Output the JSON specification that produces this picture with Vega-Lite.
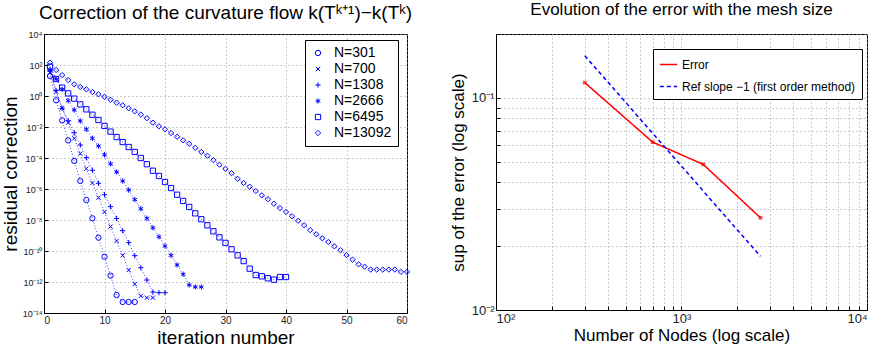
{
  "$schema": "https://vega.github.io/schema/vega-lite/v6.json",
  "padding": {"left": 0, "right": 0, "top": 0, "bottom": 0},
  "background": "white",
  "datasets": {
    "conv": [
      {"N":"N=301","iter":1,"logr":1.29},{"N":"N=301","iter":2,"logr":-0.28},{"N":"N=301","iter":3,"logr":-1.57},{"N":"N=301","iter":4,"logr":-2.86},{"N":"N=301","iter":5,"logr":-4.19},{"N":"N=301","iter":6,"logr":-5.48},{"N":"N=301","iter":7,"logr":-6.71},{"N":"N=301","iter":8,"logr":-7.89},{"N":"N=301","iter":9,"logr":-9.14},{"N":"N=301","iter":10,"logr":-10.37},{"N":"N=301","iter":11,"logr":-11.59},{"N":"N=301","iter":12,"logr":-12.84},{"N":"N=301","iter":13,"logr":-13.29},{"N":"N=301","iter":14,"logr":-13.29},{"N":"N=301","iter":15,"logr":-13.29},
      {"N":"N=700","iter":1,"logr":1.5},{"N":"N=700","iter":2,"logr":0.3},{"N":"N=700","iter":3,"logr":-0.78},{"N":"N=700","iter":4,"logr":-1.72},{"N":"N=700","iter":5,"logr":-2.73},{"N":"N=700","iter":6,"logr":-3.72},{"N":"N=700","iter":7,"logr":-4.69},{"N":"N=700","iter":8,"logr":-5.61},{"N":"N=700","iter":9,"logr":-6.56},{"N":"N=700","iter":10,"logr":-7.48},{"N":"N=700","iter":11,"logr":-8.43},{"N":"N=700","iter":12,"logr":-9.35},{"N":"N=700","iter":13,"logr":-10.28},{"N":"N=700","iter":14,"logr":-11.23},{"N":"N=700","iter":15,"logr":-12.13},{"N":"N=700","iter":16,"logr":-12.9},{"N":"N=700","iter":17,"logr":-13.01},{"N":"N=700","iter":18,"logr":-13.01},
      {"N":"N=1308","iter":1,"logr":1.6},{"N":"N=1308","iter":2,"logr":0.35},{"N":"N=1308","iter":3,"logr":-0.8},{"N":"N=1308","iter":4,"logr":-1.6},{"N":"N=1308","iter":5,"logr":-2.37},{"N":"N=1308","iter":6,"logr":-3.16},{"N":"N=1308","iter":7,"logr":-3.98},{"N":"N=1308","iter":8,"logr":-4.79},{"N":"N=1308","iter":9,"logr":-5.63},{"N":"N=1308","iter":10,"logr":-6.37},{"N":"N=1308","iter":11,"logr":-7.14},{"N":"N=1308","iter":12,"logr":-7.9},{"N":"N=1308","iter":13,"logr":-8.69},{"N":"N=1308","iter":14,"logr":-9.46},{"N":"N=1308","iter":15,"logr":-10.3},{"N":"N=1308","iter":16,"logr":-11.08},{"N":"N=1308","iter":17,"logr":-11.87},{"N":"N=1308","iter":18,"logr":-12.65},{"N":"N=1308","iter":19,"logr":-12.69},{"N":"N=1308","iter":20,"logr":-12.69},
      {"N":"N=2666","iter":1,"logr":1.7},{"N":"N=2666","iter":2,"logr":1.1},{"N":"N=2666","iter":3,"logr":0.43},{"N":"N=2666","iter":4,"logr":-0.3},{"N":"N=2666","iter":5,"logr":-0.9},{"N":"N=2666","iter":6,"logr":-1.61},{"N":"N=2666","iter":7,"logr":-2.15},{"N":"N=2666","iter":8,"logr":-2.73},{"N":"N=2666","iter":9,"logr":-3.23},{"N":"N=2666","iter":10,"logr":-3.79},{"N":"N=2666","iter":11,"logr":-4.37},{"N":"N=2666","iter":12,"logr":-4.9},{"N":"N=2666","iter":13,"logr":-5.48},{"N":"N=2666","iter":14,"logr":-6.06},{"N":"N=2666","iter":15,"logr":-6.68},{"N":"N=2666","iter":16,"logr":-7.27},{"N":"N=2666","iter":17,"logr":-7.89},{"N":"N=2666","iter":18,"logr":-8.5},{"N":"N=2666","iter":19,"logr":-9.08},{"N":"N=2666","iter":20,"logr":-9.68},{"N":"N=2666","iter":21,"logr":-10.28},{"N":"N=2666","iter":22,"logr":-10.9},{"N":"N=2666","iter":23,"logr":-11.5},{"N":"N=2666","iter":24,"logr":-12.19},{"N":"N=2666","iter":25,"logr":-12.32},{"N":"N=2666","iter":26,"logr":-12.32},
      {"N":"N=6495","iter":1,"logr":1.89},{"N":"N=6495","iter":2,"logr":1.1},{"N":"N=6495","iter":3,"logr":0.54},{"N":"N=6495","iter":4,"logr":0.17},{"N":"N=6495","iter":5,"logr":-0.17},{"N":"N=6495","iter":6,"logr":-0.54},{"N":"N=6495","iter":7,"logr":-0.86},{"N":"N=6495","iter":8,"logr":-1.21},{"N":"N=6495","iter":9,"logr":-1.55},{"N":"N=6495","iter":10,"logr":-1.93},{"N":"N=6495","iter":11,"logr":-2.3},{"N":"N=6495","iter":12,"logr":-2.65},{"N":"N=6495","iter":13,"logr":-2.97},{"N":"N=6495","iter":14,"logr":-3.29},{"N":"N=6495","iter":15,"logr":-3.61},{"N":"N=6495","iter":16,"logr":-4.0},{"N":"N=6495","iter":17,"logr":-4.4},{"N":"N=6495","iter":18,"logr":-4.82},{"N":"N=6495","iter":19,"logr":-5.16},{"N":"N=6495","iter":20,"logr":-5.55},{"N":"N=6495","iter":21,"logr":-5.94},{"N":"N=6495","iter":22,"logr":-6.37},{"N":"N=6495","iter":23,"logr":-6.77},{"N":"N=6495","iter":24,"logr":-7.16},{"N":"N=6495","iter":25,"logr":-7.57},{"N":"N=6495","iter":26,"logr":-7.95},{"N":"N=6495","iter":27,"logr":-8.34},{"N":"N=6495","iter":28,"logr":-8.73},{"N":"N=6495","iter":29,"logr":-9.12},{"N":"N=6495","iter":30,"logr":-9.48},{"N":"N=6495","iter":31,"logr":-9.89},{"N":"N=6495","iter":32,"logr":-10.28},{"N":"N=6495","iter":33,"logr":-10.65},{"N":"N=6495","iter":34,"logr":-11.14},{"N":"N=6495","iter":35,"logr":-11.55},{"N":"N=6495","iter":36,"logr":-11.63},{"N":"N=6495","iter":37,"logr":-11.76},{"N":"N=6495","iter":38,"logr":-11.85},{"N":"N=6495","iter":39,"logr":-11.68},{"N":"N=6495","iter":40,"logr":-11.68},
      {"N":"N=13092","iter":1,"logr":2.15},{"N":"N=13092","iter":2,"logr":1.68},{"N":"N=13092","iter":3,"logr":1.35},{"N":"N=13092","iter":4,"logr":1.03},{"N":"N=13092","iter":5,"logr":0.75},{"N":"N=13092","iter":6,"logr":0.58},{"N":"N=13092","iter":7,"logr":0.43},{"N":"N=13092","iter":8,"logr":0.26},{"N":"N=13092","iter":9,"logr":0.11},{"N":"N=13092","iter":10,"logr":-0.05},{"N":"N=13092","iter":11,"logr":-0.24},{"N":"N=13092","iter":12,"logr":-0.43},{"N":"N=13092","iter":13,"logr":-0.6},{"N":"N=13092","iter":14,"logr":-0.79},{"N":"N=13092","iter":15,"logr":-0.99},{"N":"N=13092","iter":16,"logr":-1.2},{"N":"N=13092","iter":17,"logr":-1.43},{"N":"N=13092","iter":18,"logr":-1.72},{"N":"N=13092","iter":19,"logr":-1.95},{"N":"N=13092","iter":20,"logr":-2.15},{"N":"N=13092","iter":21,"logr":-2.39},{"N":"N=13092","iter":22,"logr":-2.63},{"N":"N=13092","iter":23,"logr":-2.86},{"N":"N=13092","iter":24,"logr":-3.08},{"N":"N=13092","iter":25,"logr":-3.34},{"N":"N=13092","iter":26,"logr":-3.61},{"N":"N=13092","iter":27,"logr":-3.85},{"N":"N=13092","iter":28,"logr":-4.14},{"N":"N=13092","iter":29,"logr":-4.43},{"N":"N=13092","iter":30,"logr":-4.7},{"N":"N=13092","iter":31,"logr":-4.98},{"N":"N=13092","iter":32,"logr":-5.34},{"N":"N=13092","iter":33,"logr":-5.61},{"N":"N=13092","iter":34,"logr":-5.85},{"N":"N=13092","iter":35,"logr":-6.13},{"N":"N=13092","iter":36,"logr":-6.41},{"N":"N=13092","iter":37,"logr":-6.66},{"N":"N=13092","iter":38,"logr":-6.95},{"N":"N=13092","iter":39,"logr":-7.23},{"N":"N=13092","iter":40,"logr":-7.48},{"N":"N=13092","iter":41,"logr":-7.76},{"N":"N=13092","iter":42,"logr":-8.05},{"N":"N=13092","iter":43,"logr":-8.34},{"N":"N=13092","iter":44,"logr":-8.65},{"N":"N=13092","iter":45,"logr":-8.92},{"N":"N=13092","iter":46,"logr":-9.18},{"N":"N=13092","iter":47,"logr":-9.42},{"N":"N=13092","iter":48,"logr":-9.7},{"N":"N=13092","iter":49,"logr":-9.95},{"N":"N=13092","iter":50,"logr":-10.26},{"N":"N=13092","iter":51,"logr":-10.56},{"N":"N=13092","iter":52,"logr":-10.86},{"N":"N=13092","iter":53,"logr":-11.01},{"N":"N=13092","iter":54,"logr":-11.2},{"N":"N=13092","iter":55,"logr":-11.2},{"N":"N=13092","iter":56,"logr":-11.2},{"N":"N=13092","iter":57,"logr":-11.2},{"N":"N=13092","iter":58,"logr":-11.2},{"N":"N=13092","iter":59,"logr":-11.35},{"N":"N=13092","iter":60,"logr":-11.35}
    ],
    "err": [
      {"series":"Error","nodes":301,"err":0.118},
      {"series":"Error","nodes":700,"err":0.0618},
      {"series":"Error","nodes":1308,"err":0.0486},
      {"series":"Error","nodes":2666,"err":0.0272},
      {"series":"Ref slope −1 (first order method)","nodes":301,"err":0.158},
      {"series":"Ref slope −1 (first order method)","nodes":2666,"err":0.0179}
    ]
  },
  "hconcat": [
    {
      "width": 363,
      "height": 279,
      "title": {"text": "Correction of the curvature flow k(Tᵏ⁺¹)−k(Tᵏ)", "fontSize": 19, "fontWeight": "normal", "font": "Liberation Sans", "offset": 7, "frame": "group"},
      "data": {"name": "conv"},
      "encoding": {
        "x": {
          "field": "iter", "type": "quantitative",
          "scale": {"domain": [0, 60], "nice": false, "zero": false},
          "axis": {"values": [0, 10, 20, 30, 40, 50, 60], "title": "iteration number", "titleFontSize": 19, "labelFontSize": 10, "titlePadding": 3}
        },
        "y": {
          "field": "logr", "type": "quantitative",
          "scale": {"domain": [-14, 4], "nice": false, "zero": false},
          "axis": {
            "values": [-14, -12, -10, -8, -6, -4, -2, 0, 2, 4],
            "labelOverlap": false,
            "labelExpr": "'10' + replace(replace(replace(replace(replace(replace(replace(''+datum.value,'-','⁻'),'0','⁰'),'1','¹'),'2','²'),'4','⁴'),'6','⁶'),'8','⁸')",
            "title": "residual correction", "titleFontSize": 19, "labelFontSize": 9, "titlePadding": 2
          }
        }
      },
      "layer": [
        {
          "mark": {"type": "line", "strokeDash": [1, 2], "strokeWidth": 0.9, "color": "#0000ff", "opacity": 0.8},
          "encoding": {
            "detail": {"field": "N", "type": "nominal"}
          }
        },
        {
          "mark": {"type": "point", "filled": false, "color": "#0000ff", "strokeWidth": 1, "size": 28, "opacity": 1},
          "encoding": {
            "shape": {
              "field": "N", "type": "nominal",
              "scale": {
                "domain": ["N=301", "N=700", "N=1308", "N=2666", "N=6495", "N=13092"],
                "range": ["circle", "M-0.8,-0.8L0.8,0.8M-0.8,0.8L0.8,-0.8", "M-1,0L1,0M0,-1L0,1", "M0,-1L0,1M-0.87,-0.5L0.87,0.5M-0.87,0.5L0.87,-0.5", "square", "diamond"]
              },
              "legend": {
                "title": null, "orient": "none", "legendX": 261, "legendY": 6,
                "labelFontSize": 14, "labelFont": "Liberation Sans", "labelColor": "black",
                "strokeColor": "black", "fillColor": "white", "padding": 6,
                "symbolStrokeColor": "#0000ff", "symbolStrokeWidth": 1, "symbolSize": 28, "symbolFillColor": "transparent",
                "rowPadding": 2, "labelOffset": 9
              }
            }
          }
        }
      ]
    },
    {
      "width": 371,
      "height": 276,
      "title": {"text": "Evolution of the error with the mesh size", "fontSize": 17, "fontWeight": "normal", "font": "Liberation Sans", "offset": 9, "frame": "group"},
      "data": {"name": "err"},
      "encoding": {
        "x": {
          "field": "nodes", "type": "quantitative",
          "scale": {"type": "log", "domain": [100, 10000], "nice": false},
          "axis": {
            "values": [100, 200, 300, 400, 500, 600, 700, 800, 900, 1000, 2000, 3000, 4000, 5000, 6000, 7000, 8000, 9000, 10000],
            "labelOverlap": false,
            "labelExpr": "abs(log(datum.value)/LN10 - round(log(datum.value)/LN10)) < 0.001 ? '10' + replace(replace(replace(replace(replace(''+round(log(datum.value)/LN10),'-','⁻'),'1','¹'),'2','²'),'3','³'),'4','⁴') : ''",
            "title": "Number of Nodes (log scale)", "titleFontSize": 17, "labelFontSize": 13, "titlePadding": 2
          }
        },
        "y": {
          "field": "err", "type": "quantitative",
          "scale": {"type": "log", "domain": [0.01, 0.2], "nice": false},
          "axis": {
            "values": [0.01, 0.02, 0.03, 0.04, 0.05, 0.06, 0.07, 0.08, 0.09, 0.1, 0.2],
            "labelOverlap": false,
            "labelExpr": "abs(log(datum.value)/LN10 - round(log(datum.value)/LN10)) < 0.001 ? '10' + replace(replace(replace(replace(replace(''+round(log(datum.value)/LN10),'-','⁻'),'1','¹'),'2','²'),'3','³'),'4','⁴') : ''",
            "title": "sup of the error (log scale)", "titleFontSize": 17, "labelFontSize": 13, "titlePadding": 4
          }
        }
      },
      "layer": [
        {
          "mark": {"type": "line", "strokeWidth": 1.5},
          "encoding": {
            "color": {
              "field": "series", "type": "nominal",
              "scale": {"domain": ["Error", "Ref slope −1 (first order method)"], "range": ["#ff0000", "#0000ff"]},
              "legend": {
                "title": null, "orient": "none", "legendX": 609, "legendY": 15,
                "labelFontSize": 12, "labelFont": "Liberation Sans", "labelColor": "black", "labelLimit": 400,
                "strokeColor": "black", "fillColor": "white", "padding": 6,
                "symbolType": "stroke", "symbolStrokeWidth": 1.5, "symbolSize": 300, "rowPadding": 6
              }
            },
            "strokeDash": {
              "field": "series", "type": "nominal",
              "scale": {"domain": ["Error", "Ref slope −1 (first order method)"], "range": [[1, 0], [4, 3]]},
              "legend": {
                "title": null, "orient": "none", "legendX": 609, "legendY": 15,
                "labelFontSize": 12, "labelFont": "Liberation Sans", "labelColor": "black", "labelLimit": 400,
                "strokeColor": "black", "fillColor": "white", "padding": 6,
                "symbolType": "stroke", "symbolStrokeWidth": 1.5, "symbolSize": 300, "rowPadding": 6
              }
            }
          }
        },
        {
          "transform": [{"filter": "datum.series == 'Error'"}],
          "mark": {"type": "point", "shape": "square", "filled": true, "color": "#ff0000", "size": 14}
        }
      ]
    }
  ],
  "spacing": 89,
  "bounds": "flush",
  "config": {
    "font": "Liberation Sans",
    "view": {"stroke": "black", "strokeWidth": 1},
    "axis": {
      "grid": true, "gridDash": [1, 3], "gridColor": "#999999", "gridWidth": 1,
      "domainColor": "black", "tickColor": "black", "tickSize": -4,
      "labelColor": "#222222", "titleColor": "black", "titleFontWeight": "normal",
      "labelFont": "Liberation Sans", "titleFont": "Liberation Sans", "labelPadding": 6, "labelOverlap": false
    },
    "title": {"color": "black"}
  }
}
